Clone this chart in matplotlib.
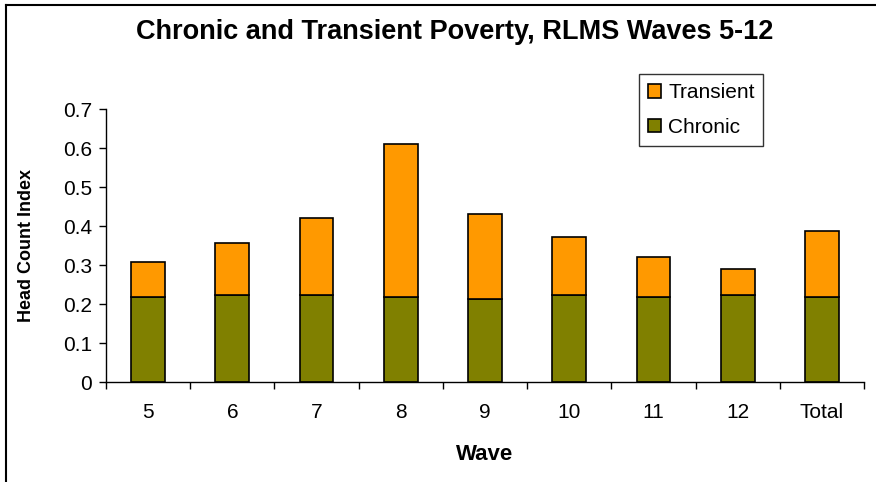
import matplotlib
matplotlib.use("Agg")
import matplotlib.pyplot as plt
from matplotlib.lines import Line2D
import numpy as np

plt.rcParams['font.family'] = ['Liberation Sans', 'DejaVu Sans']

waves = ["5", "6", "7", "8", "9", "10", "11", "12", "Total"]
chronic = [0.220, 0.225, 0.225, 0.220, 0.214, 0.225, 0.220, 0.225, 0.220]
total = [0.308, 0.356, 0.422, 0.611, 0.431, 0.373, 0.321, 0.290, 0.388]
transient = [t - c for t, c in zip(total, chronic)]

W, H = 876, 482
fig = plt.figure(figsize=(W / 100, H / 100), dpi=100)
ax_l, ax_r, ax_t, ax_b = 106, 864, 109.3, 382.3
ax = fig.add_axes([ax_l / W, 1 - ax_b / H, (ax_r - ax_l) / W, (ax_b - ax_t) / H])

x = np.arange(len(waves))
bw = 0.40
ax.bar(x, chronic, bw, color="#808000", edgecolor="black", linewidth=1.2, label="Chronic")
ax.bar(x, transient, bw, bottom=chronic, color="#FF9900", edgecolor="black",
       linewidth=1.2, label="Transient")

ax.set_xlim(-0.5, len(waves) - 0.5)
ax.set_ylim(0, 0.7)
ax.set_yticks(np.arange(0, 0.71, 0.1))
ax.set_yticklabels(["0"] + [f"{v:.1f}" for v in np.arange(0.1, 0.71, 0.1)])
ax.set_xticks(x)
ax.set_xticklabels(waves)
ax.set_xticks(np.arange(-0.5, len(waves)), minor=True)
ax.tick_params(axis="x", which="major", length=0, pad=15, labelsize=15)
ax.tick_params(axis="x", which="minor", length=5, width=1, direction="out")
ax.tick_params(axis="y", length=5, width=1, direction="out", labelsize=15, pad=5)

for s in ("top", "right"):
    ax.spines[s].set_visible(False)
for s in ("left", "bottom"):
    ax.spines[s].set_linewidth(1)

ax.set_xlabel("Wave", fontsize=16, fontweight="bold", va="center")
ax.xaxis.set_label_coords(0.5 * (ax_l + ax_r) / W, 1 - 454 / H, transform=fig.transFigure)
ax.set_ylabel("Head Count Index", fontsize=13, fontweight="bold", va="center")
ax.yaxis.set_label_coords(27 / W, 1 - 245 / H, transform=fig.transFigure)

fig.text(455 / W, 1 - 32 / H, "Chronic and Transient Poverty, RLMS Waves 5-12",
         ha="center", va="center", fontsize=19.5, fontweight="bold")

handles, labels = ax.get_legend_handles_labels()
leg = ax.legend(handles[::-1], labels[::-1], loc="upper left",
                bbox_to_anchor=(639 / W, 1 - 147 / H, (763 - 639) / W, (147 - 74) / H),
                bbox_transform=fig.transFigure, mode="expand",
                fontsize=15, frameon=True, fancybox=False, borderaxespad=0,
                handlelength=0.6, handleheight=0.6, handletextpad=0.35,
                labelspacing=0.75, borderpad=0.45)
leg.get_frame().set_edgecolor("black")
leg.get_frame().set_linewidth(1)

# Outer frame along the top and left edges
fig.add_artist(Line2D([6 / W, 1], [1 - 4.5 / H, 1 - 4.5 / H], color="black", lw=1.5,
                      transform=fig.transFigure))
fig.add_artist(Line2D([6 / W, 6 / W], [0, 1 - 4.5 / H], color="black", lw=1.5,
                      transform=fig.transFigure))

fig.savefig("out.png", dpi=100)
